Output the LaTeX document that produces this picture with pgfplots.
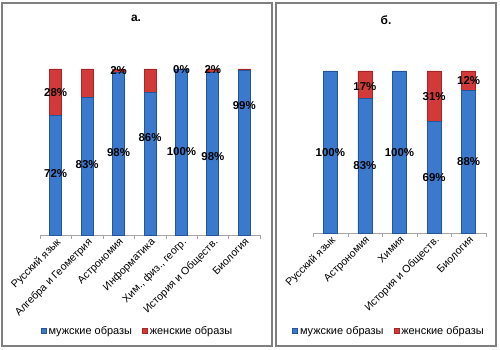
\documentclass[border=0pt]{standalone}
\usepackage{pgfplots}
\pgfplotsset{compat=1.18}
\usepackage{fontspec}
\setmainfont{Liberation Sans}
\definecolor{bluemid}{HTML}{3B79CC}
\definecolor{blueedge}{HTML}{24549C}
\definecolor{redmid}{HTML}{D23A3A}
\definecolor{rededge}{HTML}{A42626}
\definecolor{axgray}{HTML}{A6A6A6}
\definecolor{boxgray}{HTML}{7F7F7F}
\tikzset{lab/.style={font=\bfseries\fontsize{11.5}{13}\selectfont, inner sep=0pt}}
\pgfplotsset{
  panel/.style={
    scale only axis,
    ybar stacked,
    ymin=0, ymax=100,
    axis y line=none,
    axis x line*=bottom,
    x axis line style={draw=axgray,-},
    tick align=outside,
    major tick length=0pt,
    minor tick length=4bp,
    tick style={draw=axgray},
    xticklabel style={font=\fontsize{10.6}{12}\selectfont, rotate=45, anchor=north east, inner sep=1.5bp},
    legend style={draw=none, fill=none, legend columns=2, font=\fontsize{11}{12}\selectfont,
      /tikz/every even column/.append style={column sep=8bp}},
    legend cell align=left,
    legend image code/.code={\path[##1] (0bp,-2.5bp) rectangle (5bp,2.5bp);},
    clip=false,
  },
  mblue/.style={draw=blueedge, line width=0.8bp, fill=bluemid},
  mred/.style={draw=rededge, line width=0.8bp, fill=redmid},
}
\begin{document}
\begin{tikzpicture}
\useasboundingbox (0,0) rectangle (500bp,350bp);
\draw[boxgray, line width=1.2bp] (2bp,4bp) rectangle (272bp,347bp);
\draw[boxgray, line width=1.2bp] (276bp,4bp) rectangle (496bp,347bp);
\node[font=\bfseries\fontsize{12}{14}\selectfont] at (136bp,332bp) {а.};
\node[font=\bfseries\fontsize{12}{14}\selectfont] at (386bp,330bp) {б.};
\begin{axis}[panel, at={(40bp,115bp)}, anchor=south west, width=220bp, height=166bp,
  xmin=-0.5, xmax=6.5, bar width=12bp,
  xtick={0,...,6}, minor xtick={-0.5,0.5,...,6.5},
  xticklabels={Русский язык, Алгебра и Геометрия, Астрономия, Информатика, {Хим., физ., геогр.}, История и Обществ., Биология},
  legend style={at={(0.443,-0.578)}, anchor=center}]
\addplot[mblue] coordinates {(0,72) (1,83) (2,98) (3,86) (4,100) (5,98) (6,99)};
\addplot[mred] coordinates {(0,28) (1,17) (2,2) (3,14) (4,0) (5,2) (6,1)};
\legend{мужские образы, женские образы}
\coordinate (L1) at (axis cs:0,37.3);
\coordinate (L2) at (axis cs:0,86);
\coordinate (L3) at (axis cs:1,42.2);
\coordinate (L4) at (axis cs:2,49.4);
\coordinate (L5) at (axis cs:2,98.8);
\coordinate (L6) at (axis cs:3,59);
\coordinate (L7) at (axis cs:4,50);
\coordinate (L8) at (axis cs:4,99.4);
\coordinate (L9) at (axis cs:5,47);
\coordinate (L10) at (axis cs:5,99.4);
\coordinate (L11) at (axis cs:6,77.7);
\end{axis}
\node[lab] at (L1) {72\%};
\node[lab] at (L2) {28\%};
\node[lab] at (L3) {83\%};
\node[lab] at (L4) {98\%};
\node[lab] at (L5) {2\%};
\node[lab] at (L6) {86\%};
\node[lab] at (L7) {100\%};
\node[lab] at (L8) {0\%};
\node[lab] at (L9) {98\%};
\node[lab] at (L10) {2\%};
\node[lab] at (L11) {99\%};
\begin{axis}[panel, at={(313bp,117bp)}, anchor=south west, width=173bp, height=162bp,
  xmin=-0.5, xmax=4.5, bar width=14bp,
  xtick={0,...,4}, minor xtick={-0.5,0.5,...,4.5},
  xticklabels={Русский язык, Астрономия, Химия, История и Обществ., Биология},
  legend style={at={(0.439,-0.605)}, anchor=center}]
\addplot[mblue] coordinates {(0,100) (1,83) (2,100) (3,69) (4,88)};
\addplot[mred] coordinates {(0,0) (1,17) (2,0) (3,31) (4,12)};
\legend{мужские образы, женские образы}
\coordinate (R1) at (axis cs:0,49.4);
\coordinate (R2) at (axis cs:1,41.4);
\coordinate (R3) at (axis cs:1,90.7);
\coordinate (R4) at (axis cs:2,49.4);
\coordinate (R5) at (axis cs:3,34);
\coordinate (R6) at (axis cs:3,84);
\coordinate (R7) at (axis cs:4,43.8);
\coordinate (R8) at (axis cs:4,93.8);
\end{axis}
\node[lab] at (R1) {100\%};
\node[lab] at (R2) {83\%};
\node[lab] at (R3) {17\%};
\node[lab] at (R4) {100\%};
\node[lab] at (R5) {69\%};
\node[lab] at (R6) {31\%};
\node[lab] at (R7) {88\%};
\node[lab] at (R8) {12\%};
\end{tikzpicture}
\end{document}
